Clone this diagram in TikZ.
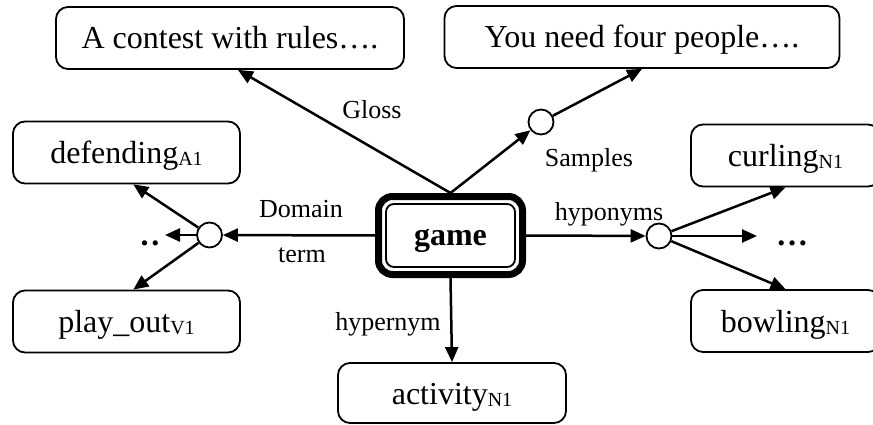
\documentclass[tikz,border=0pt]{standalone}
\usepackage{fontspec}
\setmainfont{Liberation Serif}
\usetikzlibrary{arrows.meta, positioning, fit, calc}
\newcommand{\sensetag}[1]{\raisebox{-2pt}{\fontsize{20pt}{20pt}\selectfont #1}}

\begin{document}
\begin{tikzpicture}[
    x=1pt, y=-1pt,
    wnbox/.style={rectangle, draw=black, line width=1.8pt, rounded corners=12pt, minimum height=62pt, inner sep=2pt, text height=22pt, text depth=0pt, align=center, font=\fontsize{32pt}{36pt}\selectfont},
    gameframe/.style={rectangle, draw=black, line width=7pt, rounded corners=14pt, inner sep=6.6pt},
    hub/.style={circle, draw=black, fill=white, line width=1.8pt, minimum size=25pt, inner sep=0pt},
    rel/.style={font=\fontsize{26pt}{30pt}\selectfont, inner sep=0pt},
    dots/.style={font=\fontsize{32pt}{36pt}\selectfont\bfseries, inner sep=0pt},
    arrow/.style={-{Triangle[length=15pt, width=13pt]}, line width=2.5pt, draw=black}
]
    \useasboundingbox (0,0) rectangle (873,425);
    \clip (0,0) rectangle (873,425);

    \node[wnbox, minimum width=348pt] (contest) at (230,38) {A contest with rules….};
    \node[wnbox, minimum width=395pt] (people) at (642,37) {You need four people….};
    \node[wnbox, minimum width=227pt] (defending) at (126.5,152.5) {defending\sensetag{A1}};
    \node[wnbox, minimum width=227pt] (playout) at (126.5,321.5) {play\_out\sensetag{V1}};
    \node[wnbox, minimum width=228pt, minimum height=60pt] (activity) at (452,393) {activity\sensetag{N1}};
    \node[wnbox, minimum width=189pt] (curling) at (785.5,155.5) {curling\sensetag{N1}};
    \node[wnbox, minimum width=189pt] (bowling) at (785.5,321) {bowling\sensetag{N1}};

    % central synset with its heavy frame
    \node[wnbox, rounded corners=8pt, minimum width=129pt, minimum height=63pt, text height=20pt, font=\fontsize{32pt}{36pt}\selectfont\bfseries] (game) at (450.5,235.5) {game};
    \node[gameframe, fit=(game)] (gamebox) {};

    \node[hub] (shub) at (541,122) {};
    \node[hub] (lhub) at (209.5,235) {};
    \node[hub] (rhub) at (659,236) {};

    \coordinate (lend) at (165,235);
    \coordinate (rend) at (757,236);
    \node[dots] (ldots) at (150,243) {.\kern3pt.};
    \node[dots] (rdots) at (792,243) {…};

    \node[rel] (gloss) at (372,110) {Gloss};
    \node[rel] (samples) at (589,160) {Samples};
    \node[rel] (domain) at (301,209) {Domain};
    \node[rel] (term) at (302,255) {term};
    \node[rel] (hyponyms) at (609,214) {hyponyms};
    \node[rel] (hypernym) at (388,324) {hypernym};

    \draw[arrow] (gamebox.north) -- (contest.284);
    \draw[arrow] (gamebox.north) -- (shub);
    \draw[arrow] (shub) -- (people.south);
    \draw[arrow] (gamebox.west) -- (lhub);
    \draw[arrow] (lhub) -- (defending.282);
    \draw[arrow] (lhub) -- (lend);
    \draw[arrow] (lhub) -- (playout.78);
    \draw[arrow] (gamebox.east) -- (rhub);
    \draw[arrow] (rhub) -- (curling.south);
    \draw[arrow] (rhub) -- (rend);
    \draw[arrow] (rhub) -- (bowling.north);
    \draw[arrow] (gamebox.south) -- (activity.north);
\end{tikzpicture}
\end{document}
